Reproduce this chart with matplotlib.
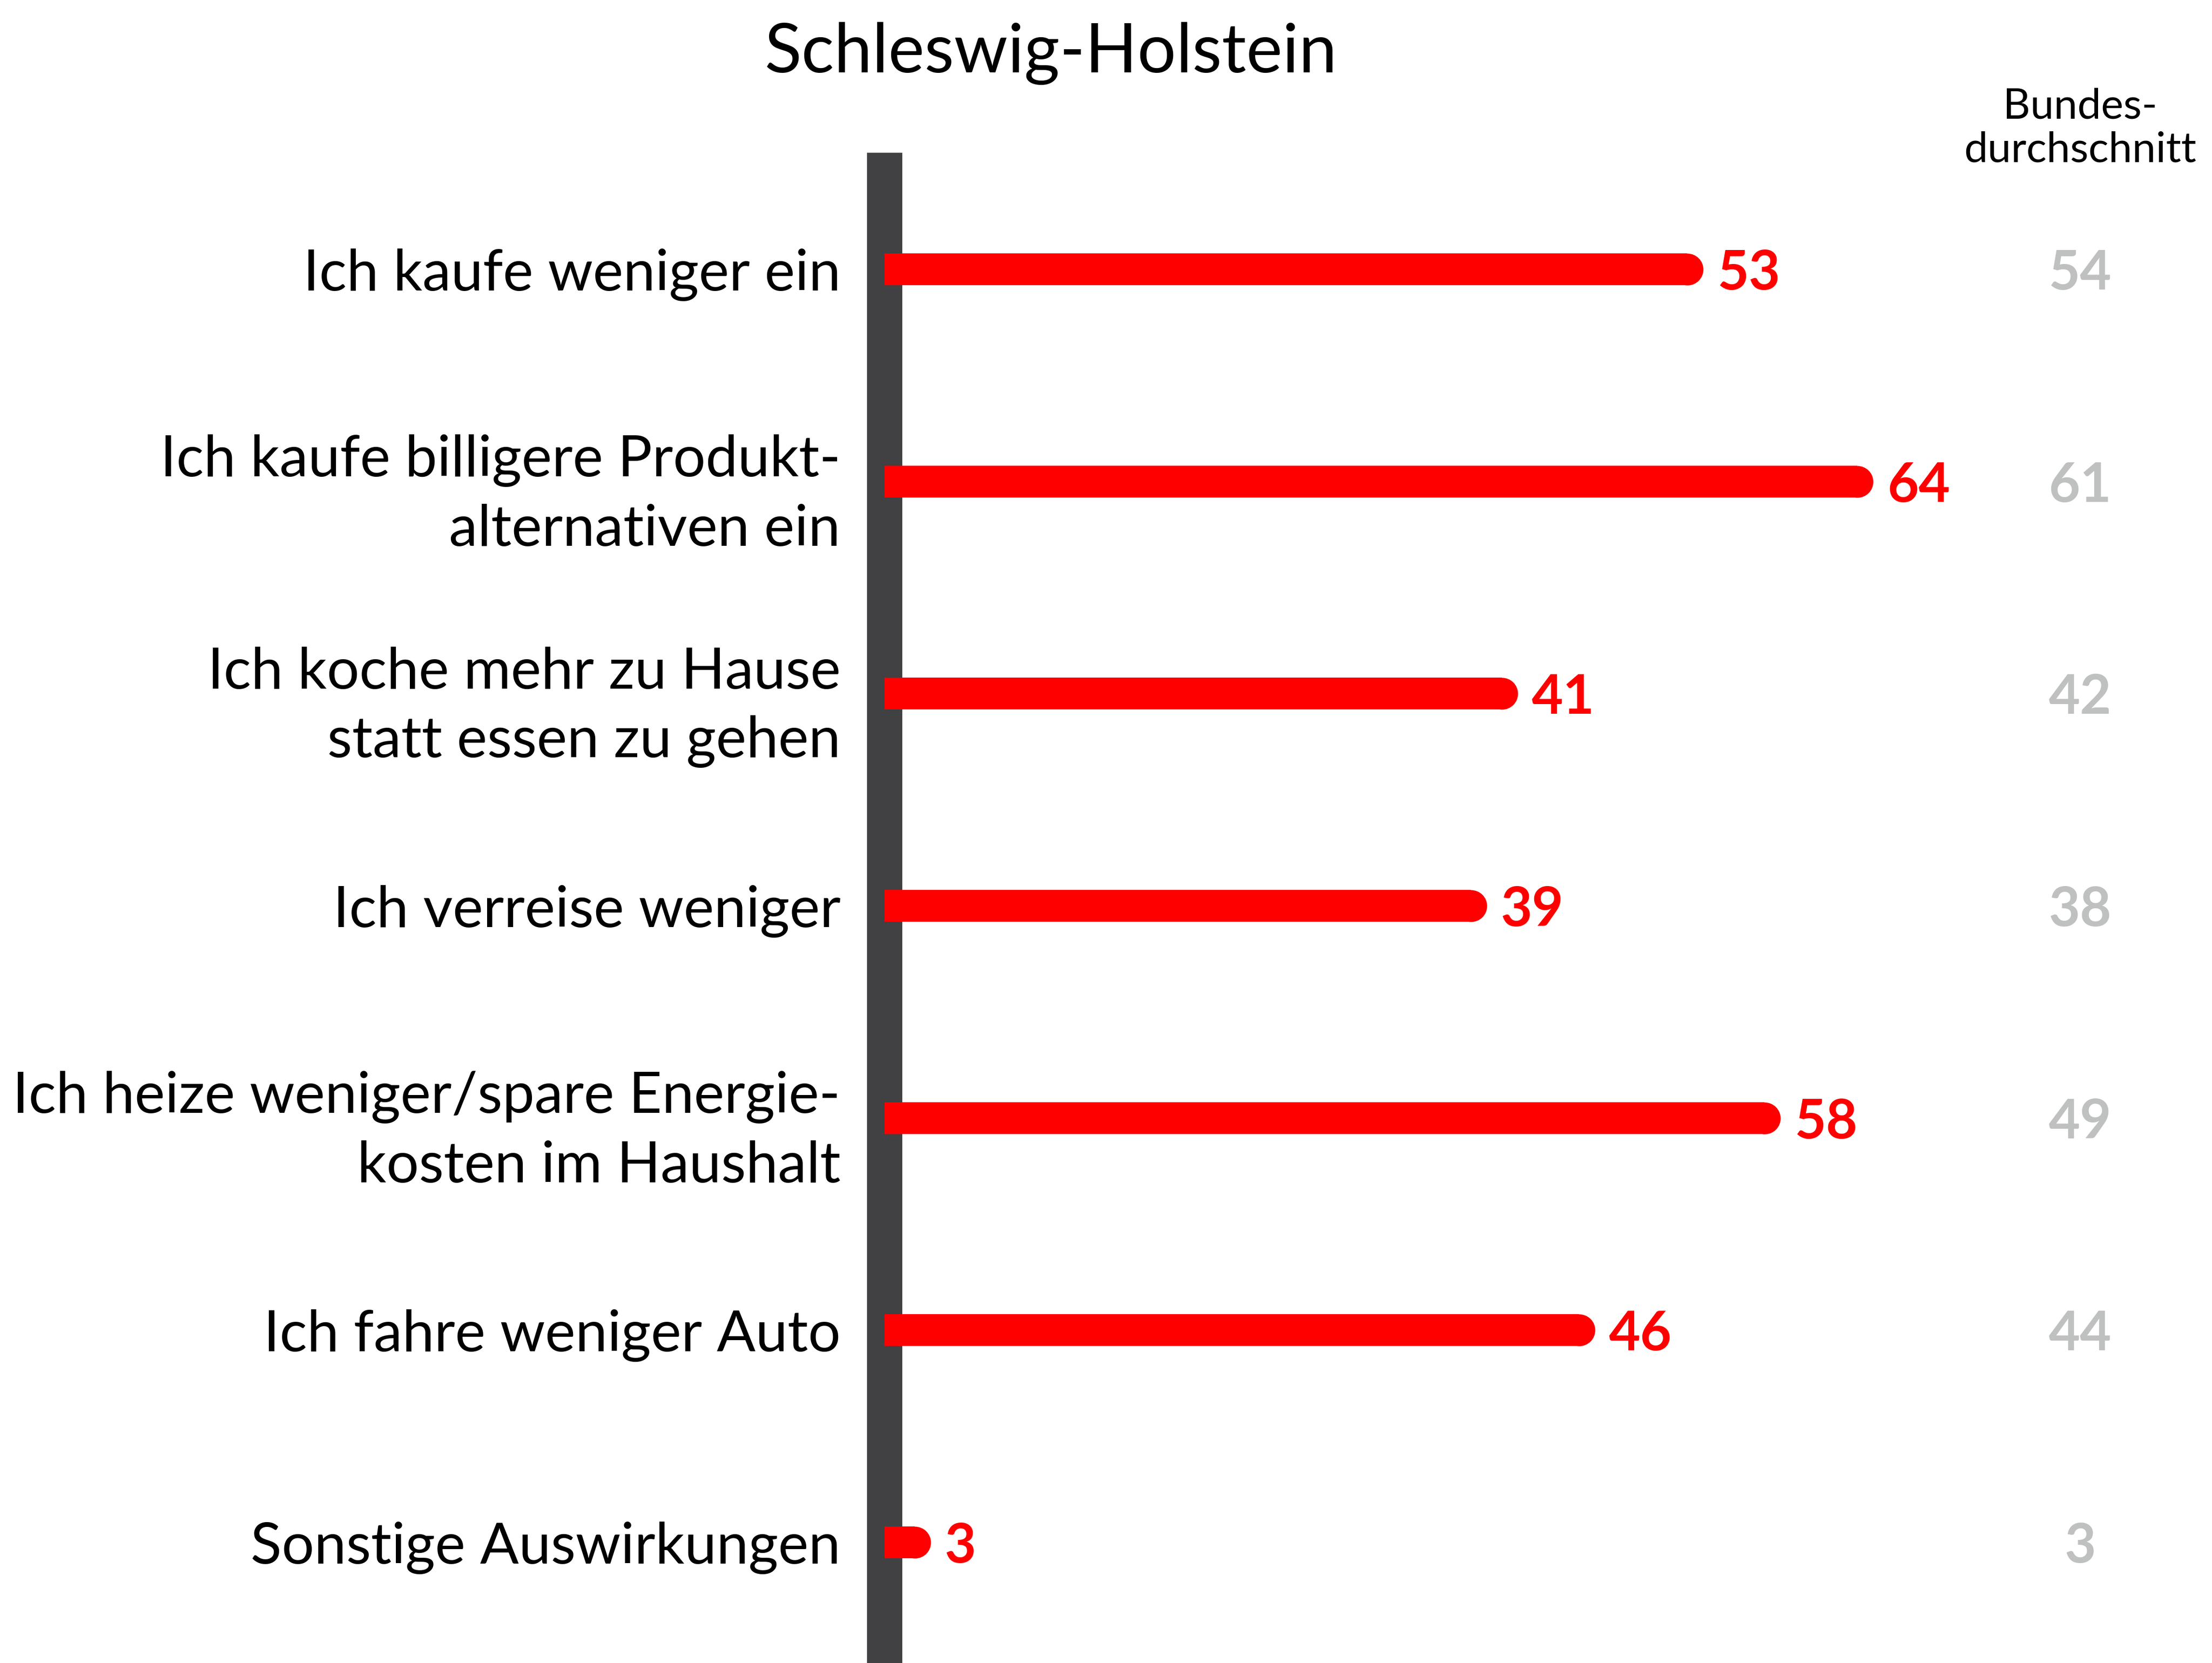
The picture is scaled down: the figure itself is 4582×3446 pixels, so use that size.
import matplotlib
matplotlib.use("Agg")
import matplotlib.pyplot as plt

labels = [
    "Ich kaufe weniger ein",
    "Ich kaufe billigere Produkt-\nalternativen ein",
    "Ich koche mehr zu Hause\nstatt essen zu gehen",
    "Ich verreise weniger",
    "Ich heize weniger/spare Energie-\nkosten im Haushalt",
    "Ich fahre weniger Auto",
    "Sonstige Auswirkungen",
]
values = [53, 64, 41, 39, 58, 46, 3]
bund = [54, 61, 42, 38, 49, 44, 3]

title = "Schleswig-Holstein"
bund_title = "Bundes-\ndurchschnitt"

RED = "#ff0000"
AXIS = "#414042"
GREY = "#bfc1c0"
FONT = ["Lato", "DejaVu Sans"]

W, H, DPI = 4582, 3446, 300
fig = plt.figure(figsize=(W / DPI, H / DPI), dpi=DPI)

# pixel layout
x0 = 1832           # zero of the value axis
px_unit = 32        # pixels per percentage point
top = 316           # top of the dark axis bar
row0, pitch = 558, 439.7
xmax = (W - x0) / px_unit

ax = fig.add_axes([x0 / W, 0, 1 - x0 / W, (H - top) / H])
ax.set_xlim(0, xmax)
ylo = 0 - (row0 - top) / pitch
yhi = 6 + (H - (row0 + 6 * pitch)) / pitch
ax.set_ylim(yhi, ylo)

bar_px = 66
bar_h = bar_px / pitch
r = (bar_px / 2) / px_unit
ms = bar_px * 72 / DPI

ys = list(range(len(values)))
ax.barh(ys, [v - r for v in values], height=bar_h, left=0, color=RED, zorder=3)
ax.plot([v - r for v in values], ys, "o", ms=ms, mew=0, color=RED, zorder=3)

for y, v, b in zip(ys, values, bund):
    ax.text(v + 0.9, y, str(v), color=RED, fontsize=27, fontweight="bold",
            family=FONT, va="center_baseline", ha="left", zorder=4)
    ax.text(77.4, y, str(b), color=GREY, fontsize=27, fontweight="bold",
            family=FONT, va="center_baseline", ha="center")

ax.text(77.4, (266 - row0) / pitch, bund_title, ha="center", va="center",
        fontsize=21, family=FONT, linespacing=1.18, clip_on=False)

ax.set_yticks(ys)
ax.set_yticklabels(labels, fontsize=28.5, family=FONT, linespacing=1.4)
ax.tick_params(axis="y", length=0, pad=(x0 - 1741) * 72 / DPI)
ax.set_xticks([])
for s in ["top", "right", "bottom"]:
    ax.spines[s].set_visible(False)
ax.spines["left"].set_color(AXIS)
ax.spines["left"].set_linewidth(73 * 72 / DPI)
ax.spines["left"].set_capstyle("butt")
ax.spines["left"].set_zorder(2)

fig.text(2177 / W, 1 - 111 / H, title, ha="center", va="center",
         fontsize=34, family=FONT)

fig.savefig("out.png", dpi=DPI)
